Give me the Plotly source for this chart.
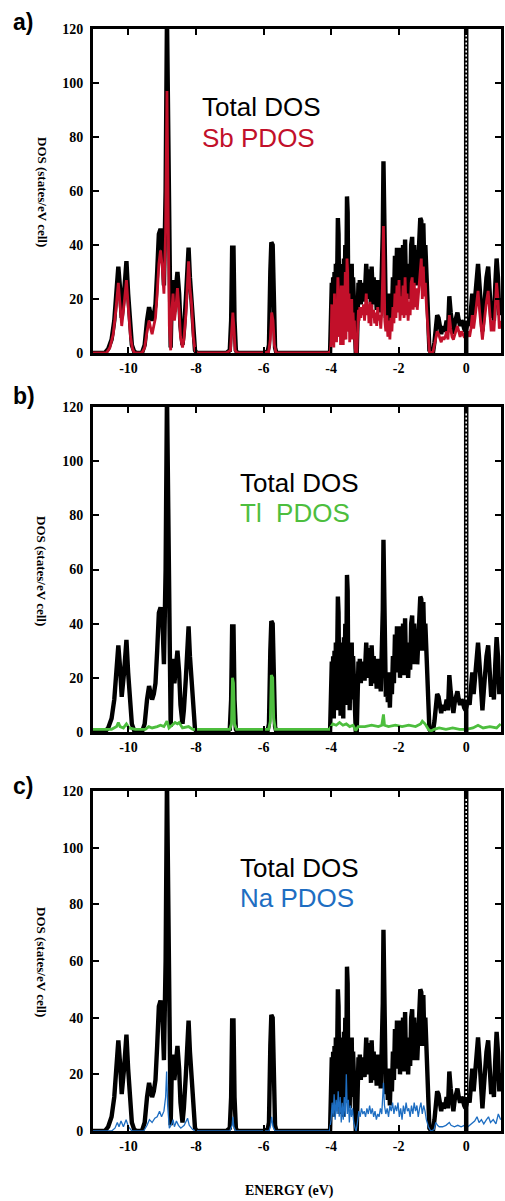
import plotly.graph_objects as go

# ---------------- data ----------------
total_pts = [
    (-11.1, 0), (-10.7, 0), (-10.6, 1.5), (-10.5, 5), (-10.42, 12), (-10.35, 22), (-10.3, 32), (-10.25, 24),
    (-10.2, 13), (-10.13, 22), (-10.06, 34), (-10.01, 22), (-9.96, 10), (-9.9, 3), (-9.83, 0.5), (-9.75, 0),
    (-9.6, 0), (-9.52, 3), (-9.45, 12), (-9.39, 17), (-9.34, 14), (-9.3, 12), (-9.25, 14), (-9.2, 18),
    (-9.15, 30), (-9.1, 44), (-9.05, 46), (-9.0, 43), (-8.95, 25), (-8.9, 60), (-8.86, 125), (-8.83, 85),
    (-8.79, 15), (-8.75, 2), (-8.72, 20), (-8.68, 27), (-8.64, 18), (-8.6, 22), (-8.55, 30), (-8.5, 22),
    (-8.46, 10), (-8.4, 3), (-8.36, 8), (-8.3, 20), (-8.25, 35), (-8.22, 39), (-8.18, 28), (-8.13, 20),
    (-8.08, 8), (-8.03, 1), (-7.98, 0),
    (-7.1, 0), (-7.0, 1), (-6.96, 12), (-6.93, 39), (-6.89, 39), (-6.86, 12), (-6.82, 1), (-6.78, 0),
    (-6.0, 0), (-5.88, 0.5), (-5.84, 3), (-5.8, 30), (-5.77, 41), (-5.73, 40), (-5.7, 20), (-5.66, 2), (-5.62, 0),
    (-4.1, 0), (-4.03, 0.5),
    (-4.0, 10), (-3.98, 26), (-3.96, 8), (-3.94, 28), (-3.92, 5), (-3.9, 30), (-3.88, 12), (-3.86, 33),
    (-3.84, 8), (-3.82, 30), (-3.8, 50), (-3.78, 44), (-3.76, 15), (-3.74, 32), (-3.72, 6), (-3.7, 33),
    (-3.68, 12), (-3.66, 30), (-3.64, 5), (-3.62, 35), (-3.6, 22), (-3.58, 40), (-3.56, 10), (-3.53, 58),
    (-3.51, 52), (-3.49, 15), (-3.47, 33), (-3.45, 8), (-3.43, 30), (-3.41, 18), (-3.39, 33), (-3.37, 12),
    (-3.35, 28), (-3.33, 20), (-3.31, 25), (-3.29, 6), (-3.27, 0.5), (-3.24, 0.5), (-3.21, 18), (-3.19, 26),
    (-3.17, 20), (-3.15, 27), (-3.12, 18), (-3.1, 25), (-3.07, 19), (-3.04, 26), (-3.01, 19), (-2.98, 28),
    (-2.96, 33), (-2.93, 24), (-2.9, 30), (-2.88, 20), (-2.85, 31), (-2.82, 17), (-2.8, 32), (-2.77, 22),
    (-2.74, 28), (-2.71, 18), (-2.68, 24), (-2.65, 16), (-2.62, 27), (-2.59, 18), (-2.56, 22), (-2.53, 15),
    (-2.5, 25), (-2.47, 45), (-2.45, 71), (-2.43, 50), (-2.41, 20), (-2.38, 13), (-2.35, 22), (-2.32, 11),
    (-2.29, 21), (-2.26, 9), (-2.23, 22), (-2.2, 14), (-2.17, 28), (-2.14, 18), (-2.11, 36), (-2.08, 22),
    (-2.05, 39), (-2.02, 24), (-1.99, 39), (-1.96, 20), (-1.93, 34), (-1.9, 23), (-1.87, 40), (-1.84, 21),
    (-1.81, 42), (-1.78, 22), (-1.75, 33), (-1.72, 20), (-1.69, 30), (-1.66, 23), (-1.63, 40), (-1.6, 43),
    (-1.57, 25), (-1.54, 40), (-1.51, 26), (-1.48, 38), (-1.45, 25), (-1.42, 33), (-1.39, 40), (-1.36, 50),
    (-1.33, 49), (-1.3, 30), (-1.27, 48), (-1.24, 32), (-1.21, 40), (-1.18, 28), (-1.15, 20), (-1.12, 8),
    (-1.09, 1), (-1.05, 0.3), (-0.98, 0.5), (-0.94, 4), (-0.9, 10), (-0.86, 14), (-0.82, 13), (-0.78, 9),
    (-0.74, 7), (-0.7, 10), (-0.66, 8), (-0.62, 9), (-0.58, 12), (-0.54, 8), (-0.5, 21), (-0.46, 15),
    (-0.42, 10), (-0.38, 7), (-0.34, 11), (-0.3, 14), (-0.26, 15), (-0.22, 12), (-0.18, 10), (-0.14, 12),
    (-0.1, 11), (-0.06, 9), (-0.02, 8), (0.02, 10), (0.06, 12), (0.1, 10), (0.14, 15), (0.18, 22),
    (0.22, 14), (0.26, 20), (0.3, 27), (0.35, 33), (0.4, 24), (0.44, 14), (0.48, 8), (0.52, 15),
    (0.56, 24), (0.6, 28), (0.65, 32), (0.7, 22), (0.74, 13), (0.78, 18), (0.82, 12), (0.86, 25),
    (0.9, 35), (0.94, 28), (0.98, 14), (1.02, 20),
]

sb_pts = [
    (-11.1, 0), (-10.65, 0), (-10.55, 2), (-10.45, 7), (-10.38, 15), (-10.3, 26), (-10.25, 18), (-10.2, 10),
    (-10.13, 18), (-10.06, 27), (-10.0, 16), (-9.94, 6), (-9.88, 1.5), (-9.82, 0), (-9.6, 0), (-9.52, 2),
    (-9.45, 8), (-9.39, 12), (-9.34, 9), (-9.3, 7), (-9.25, 10), (-9.2, 13), (-9.15, 22), (-9.1, 33),
    (-9.05, 38), (-9.0, 32), (-8.95, 22), (-8.9, 45), (-8.86, 97), (-8.83, 60), (-8.79, 10), (-8.75, 1),
    (-8.72, 15), (-8.68, 22), (-8.64, 12), (-8.6, 16), (-8.55, 24), (-8.5, 16), (-8.46, 6), (-8.4, 2),
    (-8.36, 5), (-8.3, 14), (-8.25, 28), (-8.22, 34), (-8.18, 24), (-8.13, 18), (-8.08, 6), (-8.03, 1),
    (-7.98, 0), (-7.1, 0), (-6.98, 1), (-6.94, 8), (-6.91, 15), (-6.88, 10), (-6.84, 1), (-6.78, 0),
    (-6.0, 0), (-5.85, 0.5), (-5.8, 5), (-5.76, 15), (-5.72, 12), (-5.68, 3), (-5.63, 0), (-4.1, 0),
    (-4.02, 0.5),
    (-4.0, 5), (-3.98, 18), (-3.96, 3), (-3.94, 17), (-3.92, 2), (-3.9, 22), (-3.88, 6), (-3.86, 20),
    (-3.84, 4), (-3.82, 18), (-3.8, 28), (-3.78, 22), (-3.76, 6), (-3.74, 20), (-3.72, 3), (-3.7, 25),
    (-3.68, 8), (-3.66, 22), (-3.64, 3), (-3.62, 25), (-3.6, 14), (-3.58, 30), (-3.56, 5), (-3.53, 35),
    (-3.51, 30), (-3.49, 8), (-3.47, 22), (-3.45, 4), (-3.43, 18), (-3.41, 10), (-3.39, 20), (-3.37, 5),
    (-3.35, 15), (-3.33, 8), (-3.31, 12), (-3.29, 2), (-3.27, 0), (-3.24, 0), (-3.21, 10), (-3.19, 16),
    (-3.17, 12), (-3.15, 17), (-3.12, 13), (-3.1, 17), (-3.07, 14), (-3.04, 18), (-3.01, 12), (-2.98, 17),
    (-2.96, 22), (-2.93, 14), (-2.9, 18), (-2.88, 11), (-2.85, 19), (-2.82, 10), (-2.8, 18), (-2.77, 13),
    (-2.74, 16), (-2.71, 11), (-2.68, 15), (-2.65, 10), (-2.62, 17), (-2.59, 12), (-2.56, 14), (-2.53, 9),
    (-2.5, 15), (-2.47, 30), (-2.45, 47), (-2.43, 30), (-2.41, 12), (-2.38, 8), (-2.35, 14), (-2.32, 6),
    (-2.29, 12), (-2.26, 5), (-2.23, 13), (-2.2, 8), (-2.17, 17), (-2.14, 11), (-2.11, 22), (-2.08, 13),
    (-2.05, 25), (-2.02, 15), (-1.99, 27), (-1.96, 12), (-1.93, 21), (-1.9, 14), (-1.87, 25), (-1.84, 13),
    (-1.81, 28), (-1.78, 14), (-1.75, 22), (-1.72, 12), (-1.69, 19), (-1.66, 14), (-1.63, 26), (-1.6, 28),
    (-1.57, 16), (-1.54, 26), (-1.51, 17), (-1.48, 24), (-1.45, 16), (-1.42, 21), (-1.39, 27), (-1.36, 33),
    (-1.33, 35), (-1.3, 20), (-1.27, 32), (-1.24, 21), (-1.21, 26), (-1.18, 18), (-1.15, 12), (-1.12, 5),
    (-1.09, 0.5), (-1.05, 0), (-0.98, 0.5), (-0.94, 3), (-0.9, 6), (-0.86, 8), (-0.82, 7), (-0.78, 5),
    (-0.74, 4), (-0.7, 6), (-0.66, 5), (-0.62, 6), (-0.58, 8), (-0.54, 5), (-0.5, 14), (-0.46, 9),
    (-0.42, 6), (-0.38, 5), (-0.34, 7), (-0.3, 9), (-0.26, 10), (-0.22, 8), (-0.18, 6), (-0.14, 8),
    (-0.1, 7), (-0.06, 6), (-0.02, 6), (0.02, 7), (0.06, 8), (0.1, 6), (0.14, 9), (0.18, 14),
    (0.22, 9), (0.26, 13), (0.3, 17), (0.35, 23), (0.4, 15), (0.44, 9), (0.48, 5), (0.52, 10),
    (0.56, 15), (0.6, 19), (0.65, 23), (0.7, 14), (0.74, 8), (0.78, 12), (0.82, 8), (0.86, 17),
    (0.9, 26), (0.94, 20), (0.98, 9), (1.02, 12),
]

tl_pts = [
    (-11.1, 1), (-10.5, 1), (-10.35, 2), (-10.3, 3.5), (-10.25, 2), (-10.15, 1.5), (-10.06, 3), (-9.98, 1.5),
    (-9.8, 1), (-9.5, 1), (-9.4, 2), (-9.3, 1.5), (-9.15, 2), (-9.05, 2.5), (-8.95, 2), (-8.86, 4),
    (-8.8, 1.5), (-8.7, 2.5), (-8.62, 3.5), (-8.55, 3), (-8.5, 3.5), (-8.4, 1.5), (-8.22, 2), (-8.1, 1),
    (-7.0, 1), (-6.95, 3), (-6.92, 20), (-6.89, 18), (-6.86, 3), (-6.8, 1), (-5.85, 1), (-5.8, 4),
    (-5.77, 21), (-5.73, 20), (-5.7, 5), (-5.65, 1), (-4.05, 1), (-3.95, 3), (-3.85, 2.5), (-3.75, 3.5),
    (-3.65, 2.5), (-3.55, 3), (-3.45, 2), (-3.35, 2.5), (-3.27, 0.5), (-3.2, 2), (-3.0, 2), (-2.8, 2.5),
    (-2.6, 2), (-2.5, 2.5), (-2.45, 6.5), (-2.42, 2.5), (-2.3, 2), (-2.1, 2.5), (-1.9, 2), (-1.7, 2.5),
    (-1.5, 2), (-1.35, 3), (-1.3, 4), (-1.22, 3), (-1.12, 1), (-1.05, 0.3), (-0.95, 1), (-0.8, 1.5),
    (-0.6, 1), (-0.4, 1.5), (-0.2, 1), (0.0, 1), (0.2, 1.5), (0.35, 2.5), (0.5, 1.5), (0.7, 2),
    (0.9, 1.5), (1.02, 3),
]

na_pts = [
    (-11.1, 0), (-10.5, 0), (-10.4, 1), (-10.33, 3), (-10.28, 1.5), (-10.22, 3.5), (-10.15, 1.5), (-10.07, 4),
    (-10.0, 1.5), (-9.9, 0), (-9.55, 0), (-9.45, 2), (-9.38, 4), (-9.3, 3), (-9.22, 4.5), (-9.15, 5),
    (-9.08, 7), (-9.02, 5), (-8.95, 7), (-8.9, 12), (-8.87, 21), (-8.84, 9), (-8.79, 1), (-8.72, 2.5),
    (-8.68, 4), (-8.64, 1.5), (-8.58, 3.5), (-8.52, 2), (-8.45, 1), (-8.35, 2), (-8.25, 4.5), (-8.2, 2),
    (-8.1, 0.5), (-8.0, 0), (-7.0, 0), (-6.93, 2), (-6.91, 5), (-6.88, 1.5), (-6.83, 0), (-5.84, 0),
    (-5.79, 2), (-5.76, 5), (-5.72, 1.5), (-5.66, 0), (-4.05, 0),
    (-4.0, 4), (-3.97, 10), (-3.94, 5), (-3.91, 13), (-3.88, 4), (-3.85, 11), (-3.82, 6), (-3.79, 14),
    (-3.76, 5), (-3.73, 12), (-3.7, 3), (-3.67, 10), (-3.64, 4), (-3.61, 12), (-3.58, 5), (-3.55, 20),
    (-3.52, 6), (-3.49, 11), (-3.46, 3), (-3.43, 9), (-3.4, 5), (-3.37, 8), (-3.33, 3), (-3.29, 1),
    (-3.26, 0), (-3.22, 3), (-3.18, 7), (-3.14, 5), (-3.1, 8), (-3.06, 6), (-3.02, 7), (-2.98, 5),
    (-2.94, 8), (-2.9, 6), (-2.86, 9), (-2.82, 6), (-2.78, 8), (-2.74, 5), (-2.7, 7), (-2.66, 4),
    (-2.62, 6), (-2.58, 5), (-2.54, 8), (-2.5, 6), (-2.47, 12), (-2.45, 17), (-2.42, 9), (-2.38, 6),
    (-2.34, 8), (-2.3, 5), (-2.26, 9), (-2.22, 7), (-2.18, 10), (-2.14, 6), (-2.1, 9), (-2.06, 7),
    (-2.02, 10), (-1.98, 5), (-1.94, 8), (-1.9, 4), (-1.86, 9), (-1.82, 6), (-1.78, 10), (-1.74, 7),
    (-1.7, 8), (-1.66, 5), (-1.62, 9), (-1.58, 6), (-1.54, 10), (-1.5, 7), (-1.46, 9), (-1.42, 5),
    (-1.38, 8), (-1.34, 10), (-1.3, 6), (-1.26, 9), (-1.22, 7), (-1.18, 4), (-1.12, 1.5), (-1.05, 0),
    (-0.95, 0.5), (-0.9, 3), (-0.85, 2), (-0.8, 1.5), (-0.7, 1.5), (-0.6, 2), (-0.5, 3), (-0.45, 2),
    (-0.35, 1.5), (-0.25, 2), (-0.15, 1.5), (-0.05, 2), (0.05, 1.5), (0.15, 2.5), (0.25, 3.5), (0.32, 5),
    (0.38, 3), (0.45, 4), (0.52, 2.5), (0.6, 4), (0.66, 5), (0.72, 3), (0.8, 4), (0.88, 2.5),
    (0.95, 6), (1.02, 4),
]

total_energy = [p[0] for p in total_pts]
total_dos = [p[1] for p in total_pts]

panel_letters = ["a)", "b)", "c)"]
pdos_labels = ["Sb PDOS", "Tl\u00a0 PDOS", "Na PDOS"]
pdos_data = [sb_pts, tl_pts, na_pts]
pdos_colors = ["#C2102A", "#4DBE3E", "#1E6EC2"]
pdos_widths = [2.8, 2.8, 1.3]

fermi_energy = 0.0
fermi_top = 120
fermi_dash_bottom = 12

x_ticks = [-10, -8, -6, -4, -2, 0]
y_ticks = [0, 20, 40, 60, 80, 100, 120]
x_range = [-11.05, 1.03]
y_range = [0, 120]

# ---------------- layout geometry (pixels) ----------------
W, H = 505, 1201
plot_left, plot_right = 93, 501
panel_tb = [(29, 353), (407, 732), (791, 1131)]
ytitle_center = [192, 571, 962]
letter_y = [22, 396, 786]
label1_y = [107, 483, 868]
label2_y = [138, 513, 898]
label_x = [200, 238, 238]

fig = go.Figure()
serif = "Liberation Serif"
sans = "Liberation Sans"

for i in range(3):
    xa = "x" if i == 0 else f"x{i+1}"
    ya = "y" if i == 0 else f"y{i+1}"
    top, bot = panel_tb[i]
    fig.add_trace(go.Scatter(x=total_energy, y=total_dos, mode="lines", xaxis=xa, yaxis=ya,
                             line=dict(color="black", width=4.4), showlegend=False, hoverinfo="skip"))
    pts = pdos_data[i]
    fig.add_trace(go.Scatter(x=[p[0] for p in pts], y=[p[1] for p in pts], mode="lines", xaxis=xa, yaxis=ya,
                             line=dict(color=pdos_colors[i], width=pdos_widths[i]), showlegend=False,
                             hoverinfo="skip"))
    fig.add_trace(go.Scatter(x=[fermi_energy, fermi_energy], y=[0, fermi_top], mode="lines", xaxis=xa, yaxis=ya,
                             line=dict(color="black", width=4.5), showlegend=False, hoverinfo="skip"))
    fig.add_trace(go.Scatter(x=[fermi_energy, fermi_energy], y=[fermi_dash_bottom, fermi_top], mode="lines",
                             xaxis=xa, yaxis=ya,
                             line=dict(color="white", width=1.6, dash="2px,2px"), showlegend=False,
                             hoverinfo="skip"))

    axis_common = dict(showline=True, linecolor="black", linewidth=3, mirror="ticks", ticks="inside",
                       ticklen=6, tickwidth=1.5, tickcolor="black", showgrid=False, zeroline=False,
                       automargin=False,
                       tickfont=dict(family=serif, size=14, color="black"))
    xkey = "xaxis" if i == 0 else f"xaxis{i+1}"
    ykey = "yaxis" if i == 0 else f"yaxis{i+1}"
    fig.update_layout(**{
        xkey: dict(domain=[plot_left / W, plot_right / W], range=x_range, anchor=ya,
                   tickvals=x_ticks, ticktext=[f"<b>{v}</b>" for v in x_ticks], **axis_common),
        ykey: dict(domain=[1 - bot / H, 1 - top / H], range=y_range, anchor=xa,
                   tickvals=y_ticks, ticktext=[f"<b>{v}</b>" for v in y_ticks], ticklabelstandoff=4,
                   **axis_common),
    })

    fig.add_annotation(text="<b>DOS (states/eV cell)</b>", x=42 / W, y=1 - ytitle_center[i] / H,
                       xref="paper", yref="paper", showarrow=False, textangle=90,
                       font=dict(family=serif, size=13, color="black"), xanchor="center", yanchor="middle")
    fig.add_annotation(text=f"<b>{panel_letters[i]}</b>", x=11 / W, y=1 - letter_y[i] / H,
                       xref="paper", yref="paper", showarrow=False,
                       font=dict(family=sans, size=23, color="black"), xanchor="left", yanchor="middle")
    fig.add_annotation(text="Total DOS", x=label_x[i] / W, y=1 - label1_y[i] / H,
                       xref="paper", yref="paper", showarrow=False,
                       font=dict(family=sans, size=26, color="black"), xanchor="left", yanchor="middle")
    fig.add_annotation(text=pdos_labels[i], x=label_x[i] / W, y=1 - label2_y[i] / H,
                       xref="paper", yref="paper", showarrow=False,
                       font=dict(family=sans, size=26, color=pdos_colors[i]), xanchor="left", yanchor="middle")

fig.add_annotation(text="<b>ENERGY (eV)</b>", x=289 / W, y=1 - 1191 / H, xref="paper", yref="paper",
                   showarrow=False, font=dict(family=serif, size=14, color="black"),
                   xanchor="center", yanchor="middle")

fig.update_layout(width=W, height=H, margin=dict(l=0, r=0, t=0, b=0, pad=0),
                  paper_bgcolor="white", plot_bgcolor="white", showlegend=False)

fig.write_html("out.html", config={"displayModeBar": False},
               post_script="document.body.style.margin='0px';document.body.style.overflow='hidden';")
